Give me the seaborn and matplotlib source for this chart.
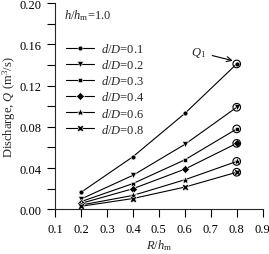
import pandas as pd
import numpy as np
import seaborn as sns
import matplotlib.pyplot as plt

# R/h_m positions and discharge for each d/D
r_hm = [0.2, 0.4, 0.6, 0.8]
d_ratio = ["0.1", "0.2", "0.3", "0.4", "0.6", "0.8"]
q_01 = [0.0165, 0.051, 0.093, 0.141]
q_02 = [0.0100, 0.033, 0.063, 0.099]
q_03 = [0.0075, 0.025, 0.048, 0.078]
q_04 = [0.0058, 0.020, 0.039, 0.064]
q_06 = [0.0042, 0.0135, 0.0287, 0.0465]
q_08 = [0.0030, 0.0105, 0.0216, 0.036]

series = [q_01, q_02, q_03, q_04, q_06, q_08]
df = pd.DataFrame({
    "R": r_hm * len(d_ratio),
    "Q": [v for s in series for v in s],
    "dD": [d for d in d_ratio for _ in r_hm],
})

sns.set_style("ticks")
plt.rcParams["font.family"] = ["Liberation Serif", "DejaVu Serif"]
plt.rcParams["mathtext.fontset"] = "custom"
plt.rcParams["mathtext.rm"] = "Liberation Serif"
plt.rcParams["mathtext.it"] = "Liberation Serif:italic"

fig = plt.figure(figsize=(2.69, 2.55), dpi=100)
ax = fig.add_axes([0.2045, 0.175, 0.772, 0.809])

markers = ["o", "v", "s", "D", "*", "X"]
sizes = [3.5, 4.5, 3.4, 3.6, 6, 5]
for d, m, ms in zip(d_ratio, markers, sizes):
    sub = df[df["dD"] == d]
    sns.lineplot(data=sub, x="R", y="Q", color="k", lw=0.8, marker=m,
                 markersize=ms, markeredgewidth=0.4, ax=ax,
                 label=rf"$d/D$={d}")

# open circles at the last point of each series
last = df[df["R"] == 0.8]
sns.scatterplot(data=last, x="R", y="Q", s=30, facecolor="none",
                edgecolor="k", linewidth=0.8, ax=ax, legend=False, zorder=5)

ax.annotate(r"$Q_1$", xy=(0.795, 0.1435), xytext=(0.625, 0.1495),
            fontsize=9, arrowprops=dict(arrowstyle="->", lw=0.8, color="k"))

ax.text(0.135, 0.185, r"$h/h_\mathrm{m}$=1.0", fontsize=9)

ax.set_xlim(0.1, 0.9)
ax.set_ylim(0.0, 0.2)
ax.set_xticks(np.arange(0.1, 0.95, 0.1))
ax.set_yticks(np.arange(0.0, 0.201, 0.04))
ax.set_yticks(np.arange(0.02, 0.2, 0.04), minor=True)
ax.tick_params(which="both", direction="out", length=6, width=0.8,
               labelsize=9, colors="k")
ax.set_xticklabels([f"{v:.1f}" for v in np.arange(0.1, 0.95, 0.1)])
ax.set_yticklabels([f"{v:.2f}" for v in np.arange(0.0, 0.201, 0.04)])
sns.despine(ax=ax)
for s in ["left", "bottom"]:
    ax.spines[s].set_linewidth(0.8)

ax.set_xlabel(r"$R/h_\mathrm{m}$", fontsize=9, labelpad=2)
ax.set_ylabel(r"Discharge, $Q$ (m$^3$/s)", fontsize=9, labelpad=1)

ax.legend(loc="upper left", bbox_to_anchor=(0.03, 0.835), frameon=False,
          fontsize=9, handlelength=2.2, handletextpad=0.55,
          labelspacing=0.25, borderaxespad=0)

plt.savefig("out.png", dpi=100)
plt.close()
